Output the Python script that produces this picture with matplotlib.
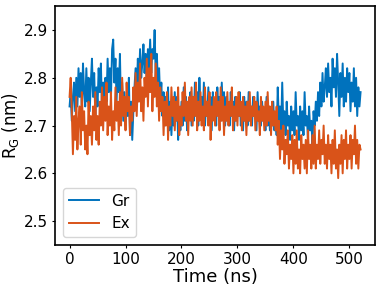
import numpy as np
import matplotlib
matplotlib.use("Agg")
import matplotlib.pyplot as plt

# time axis, ns (one sample every 2 ns)
time = np.arange(0, 521, 2)

# radius of gyration, nm
rg_gr = [2.74, 2.77, 2.71, 2.76, 2.79, 2.73, 2.80, 2.74, 2.82, 2.76,
         2.81, 2.73, 2.83, 2.77, 2.74, 2.82, 2.75, 2.80, 2.73, 2.79,
         2.84, 2.76, 2.81, 2.72, 2.78, 2.74, 2.82, 2.77, 2.83, 2.73,
         2.79, 2.72, 2.80, 2.75, 2.84, 2.77, 2.82, 2.76, 2.86, 2.88,
         2.79, 2.84, 2.75, 2.82, 2.77, 2.85, 2.73, 2.79, 2.71, 2.77,
         2.70, 2.76, 2.72, 2.80, 2.68, 2.75, 2.67, 2.73, 2.78, 2.82,
         2.77, 2.84, 2.79, 2.86, 2.80, 2.83, 2.87, 2.81, 2.85, 2.79,
         2.86, 2.82, 2.88, 2.81, 2.86, 2.84, 2.90, 2.80, 2.85, 2.78,
         2.82, 2.75, 2.79, 2.72, 2.77, 2.70, 2.76, 2.72, 2.78, 2.69,
         2.75, 2.68, 2.74, 2.70, 2.77, 2.71, 2.76, 2.67, 2.73, 2.69,
         2.75, 2.70, 2.78, 2.71, 2.76, 2.69, 2.74, 2.72, 2.77, 2.70,
         2.76, 2.71, 2.79, 2.72, 2.77, 2.70, 2.80, 2.73, 2.76, 2.71,
         2.79, 2.70, 2.75, 2.72, 2.78, 2.71, 2.76, 2.69, 2.77, 2.72,
         2.75, 2.70, 2.78, 2.73, 2.76, 2.71, 2.79, 2.72, 2.77, 2.70,
         2.76, 2.71, 2.74, 2.70, 2.77, 2.72, 2.75, 2.69, 2.76, 2.71,
         2.75, 2.72, 2.77, 2.70, 2.74, 2.69, 2.76, 2.71, 2.75, 2.70,
         2.77, 2.71, 2.74, 2.70, 2.76, 2.72, 2.75, 2.69, 2.77, 2.71,
         2.74, 2.70, 2.75, 2.71, 2.73, 2.69, 2.76, 2.70, 2.74, 2.69,
         2.73, 2.70, 2.75, 2.69, 2.72, 2.68, 2.78, 2.71, 2.74, 2.69,
         2.79, 2.70, 2.73, 2.68, 2.75, 2.70, 2.72, 2.67, 2.74, 2.69,
         2.73, 2.68, 2.77, 2.70, 2.72, 2.67, 2.74, 2.69, 2.73, 2.68,
         2.77, 2.70, 2.72, 2.67, 2.74, 2.69, 2.71, 2.66, 2.73, 2.70,
         2.75, 2.71, 2.77, 2.72, 2.79, 2.74, 2.81, 2.75, 2.78, 2.82,
         2.76, 2.83, 2.77, 2.80, 2.74, 2.84, 2.78, 2.82, 2.76, 2.85,
         2.79, 2.72, 2.81, 2.76, 2.83, 2.74, 2.80, 2.75, 2.82, 2.77,
         2.81, 2.73, 2.79, 2.75, 2.82, 2.74, 2.80, 2.72, 2.78, 2.74,
         2.77]

rg_ex = [2.76, 2.80, 2.73, 2.64, 2.72, 2.67, 2.76, 2.65, 2.71, 2.74,
         2.66, 2.77, 2.69, 2.73, 2.65, 2.70, 2.64, 2.75, 2.68, 2.72,
         2.66, 2.74, 2.69, 2.77, 2.67, 2.72, 2.66, 2.75, 2.70, 2.78,
         2.69, 2.76, 2.71, 2.79, 2.68, 2.74, 2.70, 2.77, 2.67, 2.73,
         2.69, 2.78, 2.71, 2.75, 2.68, 2.77, 2.70, 2.80, 2.72, 2.76,
         2.69, 2.79, 2.73, 2.76, 2.68, 2.74, 2.71, 2.78, 2.73, 2.81,
         2.72, 2.79, 2.75, 2.83, 2.73, 2.78, 2.71, 2.80, 2.76, 2.84,
         2.74, 2.82, 2.77, 2.85, 2.73, 2.80, 2.76, 2.83, 2.74, 2.79,
         2.71, 2.78, 2.73, 2.76, 2.68, 2.75, 2.70, 2.77, 2.67, 2.74,
         2.70, 2.78, 2.72, 2.76, 2.69, 2.75, 2.71, 2.78, 2.68, 2.74,
         2.70, 2.77, 2.72, 2.79, 2.71, 2.75, 2.68, 2.76, 2.71, 2.78,
         2.70, 2.76, 2.72, 2.79, 2.69, 2.75, 2.71, 2.77, 2.70, 2.74,
         2.69, 2.78, 2.72, 2.75, 2.70, 2.77, 2.67, 2.74, 2.71, 2.76,
         2.70, 2.77, 2.72, 2.75, 2.69, 2.78, 2.71, 2.76, 2.68, 2.74,
         2.71, 2.77, 2.70, 2.75, 2.72, 2.78, 2.69, 2.74, 2.71, 2.76,
         2.70, 2.77, 2.72, 2.75, 2.69, 2.76, 2.71, 2.74, 2.68, 2.75,
         2.71, 2.77, 2.70, 2.74, 2.72, 2.76, 2.69, 2.75, 2.71, 2.73,
         2.68, 2.76, 2.71, 2.74, 2.69, 2.75, 2.70, 2.77, 2.71, 2.74,
         2.68, 2.75, 2.70, 2.73, 2.69, 2.74, 2.66, 2.71, 2.63, 2.69,
         2.65, 2.70, 2.62, 2.67, 2.64, 2.69, 2.61, 2.66, 2.63, 2.68,
         2.60, 2.67, 2.62, 2.69, 2.61, 2.65, 2.60, 2.68, 2.63, 2.66,
         2.61, 2.67, 2.60, 2.69, 2.63, 2.66, 2.61, 2.68, 2.62, 2.70,
         2.61, 2.66, 2.63, 2.69, 2.62, 2.67, 2.64, 2.70, 2.62, 2.66,
         2.61, 2.68, 2.63, 2.66, 2.60, 2.67, 2.62, 2.69, 2.61, 2.65,
         2.59, 2.66, 2.62, 2.68, 2.60, 2.67, 2.63, 2.69, 2.61, 2.66,
         2.63, 2.68, 2.61, 2.67, 2.64, 2.70, 2.62, 2.67, 2.61, 2.66,
         2.65]

fig = plt.figure(figsize=(3.82, 2.91), dpi=100)
ax = fig.add_axes([0.144, 0.158, 0.838, 0.821])

ax.plot(time, rg_gr, color='#0072BD', lw=1.4, label='Gr')
ax.plot(time, rg_ex, color='#D95319', lw=1.4, label='Ex')

ax.set_ylim(2.45, 2.95)
ax.set_xlim(-26, 546)
ax.set_yticks([2.5, 2.6, 2.7, 2.8, 2.9])
ax.set_xticks([0, 100, 200, 300, 400, 500])
ax.tick_params(labelsize=11, length=2.5, pad=2.2)
for s in ax.spines.values():
    s.set_linewidth(1.2)

ax.set_xlabel('Time (ns)', fontsize=13, labelpad=1)
ax.set_ylabel('R$_\\mathregular{G}$ (nm)', fontsize=12, labelpad=2)
ax.legend(loc='lower left', fontsize=11, handlelength=2.0)

fig.savefig('out.png', dpi=100)
